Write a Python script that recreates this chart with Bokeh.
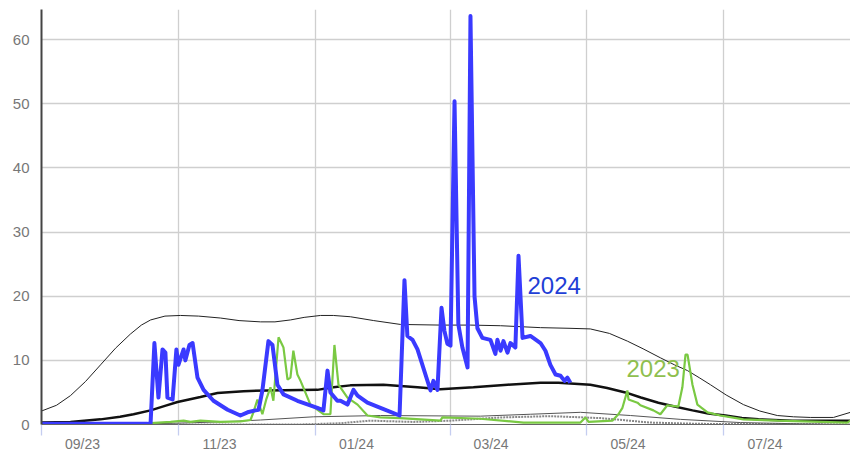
import pandas as pd
from bokeh.plotting import figure
from bokeh.models import Range1d, FixedTicker, DatetimeTickFormatter, ColumnDataSource
from bokeh.core.properties import value
from bokeh.embed import file_html
from bokeh.resources import INLINE

START = pd.Timestamp("2023-09-01")

# ---- data (days since 2023-09-01, value) ----
s2024_days = [0, 47, 48.6, 50.3, 52.1, 53.9, 55.2, 56.1, 58.4, 60.1, 61.0, 63.3, 64.1, 65.9, 67.3,
              69.5, 72.2, 76.6, 82.9, 88.6, 91.8, 95.3, 96.7, 98.4, 101.1, 102.9, 105.1, 107.8,
              114.0, 122.9, 125.6, 127.4, 128.7, 131.8, 133.2, 136.3, 139.0, 140.8, 145.2, 151.0,
              159.5, 161.7, 163.0, 165.3, 167.5, 173.3, 174.6, 176.4, 178.2, 179.5, 180.8, 182.2,
              184.0, 185.7, 187.5, 189.8, 191.1, 192.9, 194.2, 196.4, 200.0, 202.2, 203.1, 204.5,
              205.8, 207.6, 208.9, 211.1, 212.5, 214.3, 217.8, 222.3, 224.5, 226.7, 229.0, 231.2,
              233.0, 234.3, 235.6]
s2024_vals = [0.1, 0.1, 0.2, 12.7, 4.2, 11.7, 11.2, 4.2, 3.9, 11.7, 9.3, 11.7, 10.0, 12.4, 12.7,
              7.3, 5.4, 3.7, 2.3, 1.4, 1.9, 2.2, 2.3, 5.3, 13.0, 12.4, 6.2, 4.7,
              3.7, 2.6, 2.2, 8.4, 5.0, 3.7, 3.7, 3.1, 5.4, 4.5, 3.4, 2.6,
              1.4, 22.5, 13.8, 13.2, 11.7, 5.3, 6.8, 5.4, 18.2, 14.6, 12.6, 12.3,
              50.4, 15.6, 12.0, 8.9, 63.7, 20.0, 15.0, 13.5, 13.2, 11.0, 13.2, 11.5,
              13.0, 11.2, 12.7, 12.0, 26.3, 13.5, 13.8, 12.7, 11.5, 9.3, 7.8, 7.6,
              6.8, 7.3, 6.5]

s2023_days = [0, 47, 48.6, 57.5, 63.3, 66.4, 70.8, 79.7, 88.6, 93.1, 94.4, 96.2, 98.4, 100.2, 102.0,
              103.3, 105.6, 107.8, 109.6, 110.9, 112.2, 114.0, 115.4, 119.8, 125.6, 128.7, 130.5,
              132.3, 136.3, 140.8, 145.2, 151.0, 159.9, 168.8, 177.7, 178.6, 195.5, 214.7, 240.1,
              242.3, 243.7, 254.3, 257.0, 258.8, 261.0, 261.5, 265.5, 266.8, 272.6, 275.7, 278.8,
              283.7, 285.5, 286.9, 287.8, 290.0, 292.2, 296.7, 302.4, 312.7, 327.8, 359.0, 360.4]
s2023_vals = [0.0, 0.0, 0.2, 0.4, 0.6, 0.4, 0.6, 0.4, 0.5, 0.7, 1.9, 3.9, 1.6, 4.0, 5.8,
              3.7, 13.6, 12.0, 7.0, 7.3, 11.5, 7.8, 6.8, 3.1, 1.6, 1.6, 12.4,
              6.2, 4.2, 3.1, 1.4, 1.1, 1.0, 0.8, 0.6, 1.1, 0.9, 0.3, 0.3,
              1.1, 0.4, 0.6, 1.6, 2.6, 5.3, 3.9, 3.4, 3.0, 2.2, 1.6, 3.0,
              2.8, 5.8, 10.9, 10.9, 6.2, 3.1, 1.9, 1.4, 0.8, 0.6, 0.3, 0.6]

max_days = [0, 6.7, 12.9, 19.6, 26.3, 33.0, 39.6, 44.5, 48.6, 55.0, 61.9, 70.0, 79.7, 88.0,
            97.6, 104.0, 110.9, 117.0, 124.3, 130.0, 137.6, 148.0, 159.9, 177.7, 191.0,
            204.5, 222.3, 235.0, 244.5, 253.0, 261.0, 268.0, 275.7, 282.0, 287.8, 293.0,
            298.0, 305.0, 312.7, 320.0, 327.8, 335.0, 342.5, 352.8, 360.4]
max_vals = [2.1, 3.0, 4.5, 6.7, 9.3, 11.9, 14.1, 15.5, 16.3, 16.9, 17.0, 16.9, 16.6, 16.2,
            16.0, 16.0, 16.3, 16.7, 17.0, 17.0, 16.8, 16.2, 15.6, 15.5, 15.5,
            15.4, 15.1, 15.0, 14.9, 14.2, 13.0, 11.8, 10.4, 9.3, 8.4, 7.3,
            6.2, 4.6, 3.1, 2.1, 1.4, 1.2, 1.1, 1.1, 1.9]

med_days = [0, 12.9, 26.3, 35.0, 41.0, 48.6, 55.0, 60.6, 70.8, 78.4, 90.0, 100.7, 122.9, 130.0,
            137.6, 152.3, 167.5, 177.7, 192.4, 207.6, 222.3, 230.3, 244.5, 252.0, 260.1, 267.0,
            274.8, 282.0, 290.0, 297.0, 304.7, 312.0, 319.4, 334.5, 360.4]
med_vals = [0.3, 0.4, 0.8, 1.2, 1.6, 2.2, 2.9, 3.5, 4.3, 4.9, 5.2, 5.3, 5.4, 5.8,
            6.1, 6.2, 5.8, 5.5, 5.8, 6.2, 6.5, 6.5, 6.2, 5.7, 5.0, 4.2,
            3.4, 2.8, 2.2, 1.7, 1.4, 1.0, 0.8, 0.6, 0.6]

low_days = [0, 48.6, 79.7, 97.6, 121.2, 151.0, 195.5, 217.8, 240.1, 262.4, 284.6, 311.4, 338.1, 360.4]
low_vals = [0.0, 0.1, 0.4, 0.7, 1.2, 1.4, 1.3, 1.6, 1.9, 1.4, 0.8, 0.3, 0.1, 0.0]

min_days = [0, 115.4, 133.2, 146.5, 165.7, 182.2, 204.5, 226.7, 249.0, 271.3, 293.5, 360.4]
min_vals = [0.0, 0.0, 0.2, 0.6, 0.4, 0.6, 1.1, 1.3, 1.0, 0.3, 0.1, 0.0]

series_names = ["2024", "2023"]
label_days = [216.5, 260.6]
label_vals = [21.6, 8.7]

tick_labels = ["09/23", "11/23", "01/24", "03/24", "05/24", "07/24"]


def to_dt(days):
    return START + pd.to_timedelta(days, unit="D")


def ms(ts):
    return int(pd.Timestamp(ts).value // 10**6)


month_starts = pd.date_range("2023-09-01", periods=6, freq="2MS")
grid_ticks = [ms(t) for t in month_starts]
label_ticks = [ms(t + pd.Timedelta(days=18.3)) for t in month_starts]

p = figure(x_axis_type="datetime", output_backend="svg", toolbar_location=None,
           frame_width=809, frame_height=415,
           min_border_left=41, min_border_right=0, min_border_top=9, min_border_bottom=0,
           x_range=Range1d(to_dt(0), to_dt(360.4)), y_range=Range1d(0, 64.7))
p.outline_line_color = None
p.background_fill_color = "white"
p.border_fill_color = "white"

# grids
p.xgrid.ticker = FixedTicker(ticks=grid_ticks)
p.xgrid.grid_line_color = "#cfcfcf"
p.xgrid.grid_line_width = 1.3
p.ygrid.grid_line_color = "#cfcfcf"
p.ygrid.grid_line_width = 1.3

# x axis
p.xaxis.ticker = FixedTicker(ticks=label_ticks, minor_ticks=grid_ticks)
p.xaxis.formatter = DatetimeTickFormatter(days="%m/%y", months="%m/%y", years="%m/%y",
                                          hours="%m/%y", minutes="%m/%y")
p.xaxis.major_label_overrides = {t: lab for t, lab in zip(label_ticks, tick_labels)}
p.xaxis.major_tick_line_color = None
p.xaxis.major_tick_out = 0
p.xaxis.major_tick_in = 0
p.xaxis.minor_tick_line_color = "#c5cdf0"
p.xaxis.minor_tick_line_width = 1.3
p.xaxis.minor_tick_out = 11
p.xaxis.minor_tick_in = 0
p.xaxis.major_label_standoff = 0
p.xaxis.axis_line_color = "#666666"
p.xaxis.axis_line_width = 1
p.xaxis.major_label_text_font = "Liberation Sans"
p.xaxis.major_label_text_font_size = "14px"
p.xaxis.major_label_text_color = "#777777"

# y axis
p.yaxis.ticker = FixedTicker(ticks=[0, 10, 20, 30, 40, 50, 60])
p.yaxis.major_tick_line_color = None
p.yaxis.minor_tick_line_color = None
p.yaxis.major_label_standoff = 6
p.yaxis.axis_line_color = "#444444"
p.yaxis.axis_line_width = 2
p.yaxis.major_label_text_font = "Liberation Sans"
p.yaxis.major_label_text_font_size = "15px"
p.yaxis.major_label_text_color = "#777777"

# statistic lines
p.line(to_dt(min_days), min_vals, line_color="#888888", line_width=2, line_dash="2 1")
p.line(to_dt(low_days), low_vals, line_color="#555555", line_width=1)
p.line(to_dt(max_days), max_vals, line_color="#222222", line_width=1)
p.line(to_dt(med_days), med_vals, line_color="#111111", line_width=2.5)

# series
p.line(to_dt(s2023_days), s2023_vals, line_color="#7ac943", line_width=2.2)
p.line(to_dt(s2024_days), s2024_vals, line_color="#3a3aff", line_width=4, line_join="round")

lab_src = ColumnDataSource(dict(x=to_dt(label_days), y=label_vals, text=series_names,
                                color=["#1f3fd6", "#8fbf4f"]))
p.text(x="x", y="y", text="text", source=lab_src, text_color="color",
       text_font=value("Liberation Sans"), text_font_size="24px",
       text_align="left", text_baseline="middle")

open("out.html", "w").write(file_html(p, INLINE))
